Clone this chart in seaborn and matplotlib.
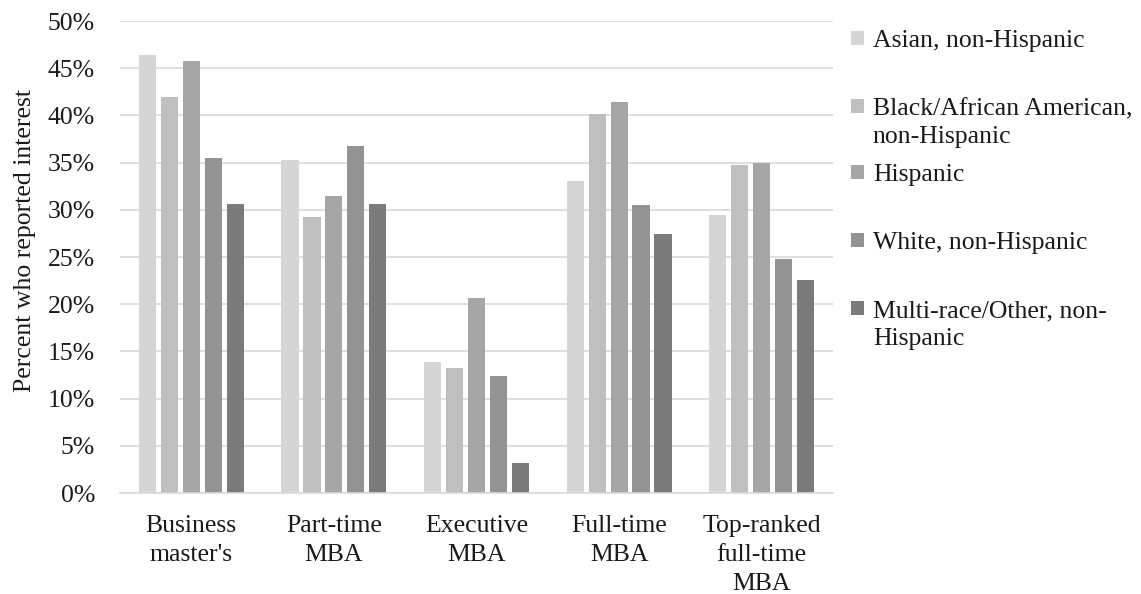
import matplotlib
matplotlib.use("Agg")
import matplotlib.pyplot as plt
import seaborn as sns
import pandas as pd

programs = ["Business\nmaster's", "Part-time\nMBA", "Executive\nMBA",
            "Full-time\nMBA", "Top-ranked\nfull-time\nMBA"]
groups = ["Asian, non-Hispanic", "Black/African American,\nnon-Hispanic",
          "Hispanic", "White, non-Hispanic", "Multi-race/Other, non-\nHispanic"]

asian = [46.4, 35.3, 13.9, 33.1, 29.4]
black = [42.0, 29.2, 13.2, 40.2, 34.7]
hispanic = [45.8, 31.5, 20.7, 41.4, 35.0]
white = [35.5, 36.8, 12.4, 30.5, 24.8]
multi = [30.6, 30.6, 3.2, 27.4, 22.6]

colors = ["#d5d5d5", "#bfbfbf", "#a6a6a6", "#939393", "#7b7b7b"]

rows = []
for grp, vals in zip(groups, [asian, black, hispanic, white, multi]):
    for prog, v in zip(programs, vals):
        rows.append({"program": prog, "group": grp, "pct": v})
df = pd.DataFrame(rows)

sns.set_theme(style="white")
plt.rcParams["font.family"] = ["Liberation Serif", "DejaVu Serif"]
FS = 18.5
TXT = "#1a1a1a"
W, H = 1141, 594

fig = plt.figure(figsize=(W / 100, H / 100), dpi=100)
ax = fig.add_axes([120 / W, 1 - 493 / H, (833 - 120) / W, (493 - 21) / H])

sns.barplot(data=df, x="program", y="pct", hue="group", order=programs,
            hue_order=groups, palette=colors, width=0.77, gap=0.22,
            saturation=1, ax=ax, linewidth=0)

ax.set_xlim(-0.5, len(programs) - 0.5)
ax.set_ylim(0, 50)
ax.set_yticks(range(0, 51, 5))
ax.set_yticklabels([f"{t}%" for t in range(0, 51, 5)], fontsize=FS, color=TXT)
for lbl in ax.get_xticklabels():
    lbl.set_fontsize(FS)
    lbl.set_color(TXT)
    lbl.set_linespacing(1.4)
ax.tick_params(axis="x", pad=16, length=0)
ax.tick_params(axis="y", length=0, pad=18)
ax.yaxis.grid(True, color="#d9d9d9", linewidth=1.2)
ax.set_axisbelow(True)
for side in ["top", "left", "right"]:
    ax.spines[side].set_visible(False)
ax.spines["bottom"].set_color("#d9d9d9")
ax.spines["bottom"].set_linewidth(1.2)
ax.set_xlabel("")
ax.set_ylabel("Percent who reported interest", fontsize=FS, color=TXT)
ax.yaxis.set_label_coords((36 - 120) / 713, (493 - 240) / 472)

handles, labels = ax.get_legend_handles_labels()
ax.get_legend().remove()

# one legend block per group; first lines evenly spaced, second lines hang below
line_y = [41, 109, 175, 243, 311]
pending = []
for h, lab, y in zip(handles, labels, line_y):
    parts = lab.split("\n")
    leg = fig.legend([h], [parts[0]], loc="center left",
                     bbox_to_anchor=(851 / W, 1 - y / H),
                     frameon=False, fontsize=FS, handlelength=0.5,
                     handleheight=0.5, handletextpad=0.35, borderpad=0,
                     borderaxespad=0, labelcolor=TXT)
    if len(parts) > 1:
        pending.append((leg.get_texts()[0], parts[1]))

fig.canvas.draw()
for txt, second in pending:
    bb = txt.get_window_extent()
    fig.text(bb.x0 / W, (bb.y0 - 28) / H, second, fontsize=FS, color=TXT,
             ha="left", va="bottom")

fig.savefig("out.png", dpi=100)
